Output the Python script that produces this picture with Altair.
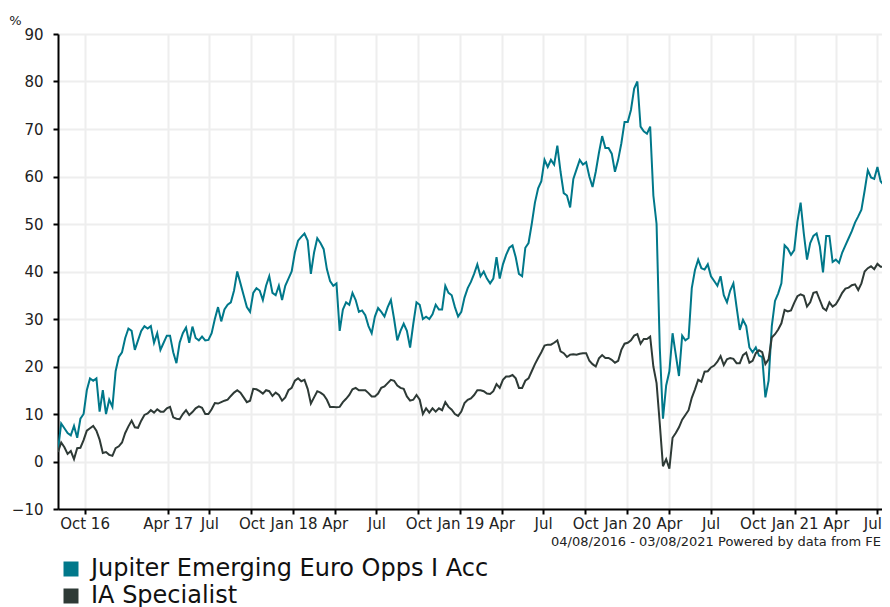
import altair as alt
import pandas as pd

series_names = ["Jupiter Emerging Euro Opps I Acc", "IA Specialist"]
series_colors = ["#00788a", "#2e3a36"]

# weekly observations starting 04/08/2016
start_date = "2016-08-04"
n_weeks = 261
dates = pd.date_range(start_date, periods=n_weeks, freq="7D").strftime("%Y-%m-%d").tolist()

jupiter = [
    2.5, 8.0, 7.0, 6.0, 5.5, 7.5, 5.0, 9.0, 10.0, 15.0,
    17.5, 17.0, 17.5, 10.5, 15.0, 10.0, 13.0, 11.5, 19.0, 22.0,
    23.0, 26.0, 28.0, 27.5, 23.5, 25.5, 27.5, 28.5, 28.0, 28.5,
    25.0, 27.0, 23.5, 25.0, 26.5, 26.5, 23.0, 20.7, 25.0, 27.0,
    28.2, 25.0, 28.4, 26.0, 25.5, 26.3, 25.5, 25.6, 27.0, 30.0,
    32.5, 29.5, 32.0, 33.0, 33.5, 36.0, 40.0, 37.5, 35.0, 32.5,
    31.5, 35.5, 36.5, 36.0, 34.0, 37.0, 39.0, 35.5, 35.0, 37.0,
    34.0, 37.0, 38.5, 40.0, 44.0, 46.5, 47.3, 48.0, 46.5, 39.5,
    44.0, 47.0, 46.0, 44.7, 40.5, 38.0, 37.0, 37.5, 27.5, 32.0,
    33.5, 33.0, 35.5, 34.0, 31.5, 31.8, 30.8, 28.5, 27.0, 30.5,
    32.3, 31.5, 30.5, 32.5, 34.0, 30.0, 25.5, 27.5, 29.0, 27.5,
    24.0, 29.0, 33.5, 33.0, 30.0, 30.5, 30.0, 31.0, 33.0, 32.0,
    32.0, 37.0, 35.5, 35.0, 32.5, 30.5, 31.5, 34.5, 36.5, 37.8,
    39.5, 41.5, 39.0, 40.0, 38.5, 37.5, 38.5, 43.0, 38.5, 41.5,
    43.5, 45.0, 45.5, 43.0, 39.5, 39.0, 45.0, 46.0, 50.0, 54.5,
    57.5, 59.0, 63.5, 62.0, 63.5, 62.5, 66.5, 61.0, 56.5, 56.0,
    53.5, 59.5, 61.5, 63.5, 62.5, 63.0, 60.0, 57.8, 61.0, 65.0,
    68.5, 66.0, 66.0, 64.8, 61.0, 63.5, 67.0, 71.5, 71.5, 74.0,
    78.5, 80.0, 70.5, 69.5, 69.0, 70.5, 56.0, 50.0, 24.0, 9.0,
    16.0, 19.0, 27.0, 22.5, 18.0, 26.5, 25.5, 26.0, 36.5, 40.3,
    42.5, 40.7, 40.4, 41.5, 39.0, 38.0, 37.0, 39.0, 35.0, 33.5,
    36.0, 37.5, 32.5, 27.7, 29.8, 28.5, 24.0, 23.0, 24.0, 22.3,
    22.0, 13.5, 17.0, 28.5, 33.8, 35.4, 37.5, 45.5, 44.8, 43.5,
    44.5, 50.5, 54.5, 48.0, 42.5, 46.0, 47.5, 48.0, 45.3, 39.8,
    47.5, 47.5, 42.0, 42.5, 41.8, 44.0, 45.5, 47.0, 48.5, 50.3,
    51.6, 53.0, 57.0, 61.3, 59.8, 59.5, 62.0, 59.0, 58.2, 57.5, 57.5,
]

ia_specialist = [
    2.0, 4.0, 3.0, 1.6, 2.2, 0.5, 2.8, 2.9, 4.5, 6.5,
    7.0, 7.5, 6.5, 4.6, 1.8, 2.0, 1.4, 1.2, 2.8, 3.2,
    4.0, 6.0, 7.4, 8.6, 7.2, 7.1, 8.6, 9.8, 10.1, 10.8,
    10.3, 11.0, 10.5, 10.5, 11.2, 11.5, 9.3, 9.0, 8.9, 10.0,
    10.8, 9.8, 10.4, 11.2, 11.6, 11.3, 10.0, 10.0, 11.0, 12.3,
    12.2, 12.5, 12.8, 13.0, 13.8, 14.5, 15.0, 14.5, 13.5, 12.5,
    12.8, 15.3, 15.2, 14.8, 14.3, 15.0, 14.8, 13.8, 14.5, 14.0,
    12.8, 13.5, 15.0, 15.5, 17.0, 17.5, 16.9, 17.2, 15.3, 12.2,
    13.5, 14.8, 14.5, 14.0, 13.0, 11.5, 11.5, 11.4, 11.5, 12.5,
    13.2, 14.0, 15.2, 15.5, 15.0, 15.0, 15.0, 14.4, 13.7, 13.7,
    14.3, 15.5, 15.8, 16.5, 17.2, 17.0, 16.0, 15.5, 15.3, 13.7,
    12.8, 13.0, 14.0, 13.0, 10.0, 11.2, 10.3, 11.2, 10.5, 11.2,
    10.8, 12.5, 11.5, 10.9, 10.0, 9.6, 10.5, 12.3, 13.0, 13.3,
    14.0, 15.0, 15.0, 14.8, 14.3, 14.2, 14.8, 16.3, 15.5, 17.2,
    17.9, 17.9, 18.2, 17.5, 15.5, 15.5, 17.0, 17.5, 19.0, 20.5,
    21.8, 23.0, 24.4, 24.6, 24.6, 25.0, 25.5, 23.2, 22.8, 22.0,
    22.5, 22.6, 22.5, 22.7, 22.8, 22.8, 21.2, 20.5, 20.0, 21.7,
    22.4, 21.8, 21.8, 21.4, 20.8, 21.2, 23.5, 24.8, 25.0, 25.5,
    26.5, 26.8, 24.8, 25.8, 25.8, 26.3, 20.0, 16.5, 8.0, -1.0,
    0.5, -1.5, 5.0, 6.0, 7.2, 8.8, 9.8, 10.8, 13.4, 15.2,
    17.2, 16.8, 18.9, 19.0, 19.8, 20.2, 21.0, 22.2, 20.3, 21.5,
    21.8, 21.6, 20.7, 20.7, 22.4, 22.9, 20.8, 21.2, 22.8, 23.4,
    23.0, 20.5, 21.5, 26.1, 26.8, 27.8, 29.1, 31.9, 31.6, 31.8,
    33.4, 34.8, 35.2, 34.9, 32.6, 33.5, 35.5, 35.7, 34.0, 32.3,
    31.8, 33.5, 32.6, 33.1, 34.2, 35.5, 36.4, 36.6, 37.1, 37.3,
    36.1, 37.5, 40.0, 40.7, 41.1, 40.5, 41.6, 41.0, 41.0, 40.2, 41.0,
]

tick_dates = [
    "2016-10-01", "2017-04-01", "2017-07-01", "2017-10-01",
    "2018-01-01", "2018-04-01", "2018-07-01", "2018-10-01",
    "2019-01-01", "2019-04-01", "2019-07-01", "2019-10-01",
    "2020-01-01", "2020-04-01", "2020-07-01", "2020-10-01",
    "2021-01-01", "2021-04-01", "2021-07-01",
]
tick_labels = [
    "Oct 16", "Apr 17", "Jul", "Oct",
    "Jan 18", "Apr", "Jul", "Oct",
    "Jan 19", "Apr", "Jul", "Oct",
    "Jan 20", "Apr", "Jul", "Oct",
    "Jan 21", "Apr", "Jul",
]
y_ticks = [-10, 0, 10, 20, 30, 40, 50, 60, 70, 80, 90]
# visible window of the time axis (the chart is cut at the right edge)
x_domain = ["2016-08-04", "2021-07-11"]
footer_text = "04/08/2016 - 03/08/2021 Powered by data from FE"

FONT = "DejaVu Sans"


def to_ms(d):
    return int(pd.Timestamp(d, tz="UTC").value // 10**6)


tick_ms = [to_ms(d) for d in tick_dates]
label_expr = (
    "[" + ",".join("'" + t + "'" for t in tick_labels) + "]"
    + "[indexof([" + ",".join("'" + d + "'" for d in tick_dates) + "], "
    + "utcFormat(datum.value, '%Y-%m-%d'))]"
)

df = pd.DataFrame({
    "date": dates * 2,
    "value": jupiter + ia_specialist,
    "series": [series_names[0]] * n_weeks + [series_names[1]] * n_weeks,
})

x_enc = alt.X(
    "date:T",
    scale=alt.Scale(type="utc", domain=[to_ms(d) for d in x_domain]),
    axis=alt.Axis(
        values=tick_ms, labelExpr=label_expr, title=None, grid=True,
        labelOverlap=False, labelFlush=5, labelFlushOffset=4, labelPadding=2,
    ),
)
y_enc = alt.Y(
    "value:Q",
    scale=alt.Scale(domain=[-10, 90], nice=False, zero=False),
    axis=alt.Axis(
        values=y_ticks, title="%", titleAngle=0, titleX=-43, titleY=-14,
        titleAlign="center", titleBaseline="middle", titleFontSize=13,
        titleFontWeight="normal", titleColor="#222", labelFlush=False,
        labelPadding=10,
    ),
)

base = alt.Chart(df)

line_j = base.transform_filter(
    alt.datum.series == series_names[0]
).mark_line(clip=True, strokeWidth=2, color=series_colors[0]).encode(x=x_enc, y=y_enc)

line_ia = base.transform_filter(
    alt.datum.series == series_names[1]
).mark_line(clip=True, strokeWidth=2, color=series_colors[1]).encode(x=x_enc, y=y_enc)

legend_layer = base.transform_filter("false").mark_square(opacity=1).encode(
    x=x_enc,
    y=y_enc,
    color=alt.Color(
        "series:N",
        scale=alt.Scale(domain=series_names, range=series_colors),
        legend=alt.Legend(
            title=None, orient="none", legendX=1, legendY=523,
            direction="vertical", symbolType="square", symbolSize=225,
            symbolStrokeWidth=0, symbolOpacity=1, labelFontSize=24,
            labelColor="#111", labelFont=FONT, labelOffset=8,
            rowPadding=3, padding=0, labelLimit=800,
        ),
    ),
)

footer = alt.Chart(pd.DataFrame({"text": [footer_text]})).mark_text(
    align="right", baseline="middle", fontSize=13, color="#222", font=FONT
).encode(x=alt.value(823), y=alt.value(508), text="text:N")

chart = alt.layer(line_j, line_ia, legend_layer, footer).properties(
    width=824,
    height=475,
    autosize=alt.AutoSizeParams(type="none"),
    padding={"left": 50, "top": 26, "right": 0, "bottom": 100},
).configure(
    font=FONT,
).configure_view(
    stroke=None,
).configure_axis(
    domainColor="#000",
    domainWidth=2,
    tickColor="#000",
    tickWidth=2,
    tickSize=5,
    gridColor="#eeeeee",
    gridWidth=2,
    labelColor="#222",
    labelFontSize=15,
    labelFont=FONT,
)

chart.save("out.html", embed_options={"renderer": "svg", "actions": False})
